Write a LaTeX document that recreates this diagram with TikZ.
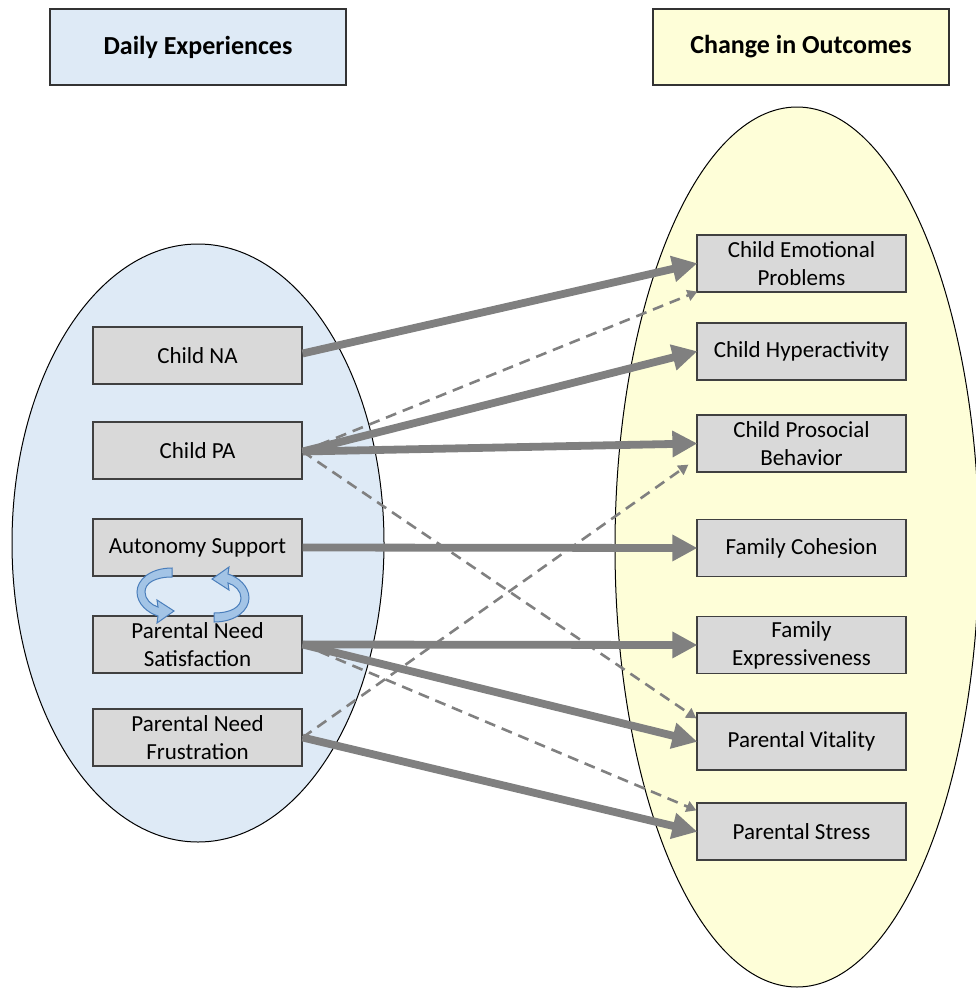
\documentclass[tikz,border=0pt]{standalone}
\usepackage{fontspec}
\setmainfont{Carlito}
\usetikzlibrary{arrows.meta,calc,shapes.geometric}
\definecolor{lblue}{HTML}{DEEAF6}
\definecolor{lyellow}{HTML}{FEFED8}
\definecolor{boxgray}{HTML}{D9D9D9}
\definecolor{arrgray}{HTML}{808080}
\definecolor{cycfill}{HTML}{A3C4E6}
\definecolor{cycline}{HTML}{4A7EBB}
\tikzset{
  varbox/.style={draw=black!75, line width=1.2pt, fill=boxgray, minimum width=209pt, minimum height=57pt, inner sep=2pt, align=center, font=\fontsize{23pt}{28pt}\selectfont},
  headbox/.style={draw=black!80, line width=1.2pt, minimum width=296pt, minimum height=76pt, font=\fontsize{26pt}{30pt}\selectfont\bfseries},
  solidarr/.style={draw=arrgray, line width=7.8pt, -{Triangle[length=25pt,width=25pt]}, shorten >=-1pt},
  dasharr/.style={draw=arrgray, line width=2.6pt, dash pattern=on 11pt off 7pt, -{Triangle[length=10pt,width=11pt]}},
  cyc/.style={fill=cycfill, draw=cycline, line width=1pt}
}
\begin{document}
\begin{tikzpicture}[x=1pt,y=-1pt]
\useasboundingbox (0,0) rectangle (975,988);
% ellipses
\node[ellipse, draw=black, line width=1pt, fill=lblue, minimum width=372pt, minimum height=598pt, inner sep=0pt] (lell) at (198,543) {};
\node[ellipse, draw=black, line width=1pt, fill=lyellow, minimum width=364pt, minimum height=880pt, inner sep=0pt] (rell) at (797,547) {};
% headers
\node[headbox, fill=lblue] (hl) at (198,47) {Daily Experiences};
\node[headbox, fill=lyellow] (hr) at (801,47) {Change in Outcomes};
% left boxes
\node[varbox] (cna) at (197.5,355.5) {Child NA};
\node[varbox] (cpa) at (197.5,450.5) {Child PA};
\node[varbox] (aus) at (197.5,547.5) {Autonomy Support};
\node[varbox] (pns) at (197.5,644.5) {Parental Need\\Satisfaction};
\node[varbox] (pnf) at (197.5,737.5) {Parental Need\\Frustration};
% right boxes
\node[varbox] (cep) at (801.5,263.5) {Child Emotional\\Problems};
\node[varbox] (chy) at (801.5,351.5) {Child Hyperactivity};
\node[varbox] (cpb) at (801.5,443.5) {Child Prosocial\\Behavior};
\node[varbox] (fco) at (801.5,548) {Family Cohesion};
\node[varbox] (fex) at (801.5,645) {Family\\Expressiveness};
\node[varbox] (pvi) at (801.5,741.5) {Parental Vitality};
\node[varbox] (pst) at (801.5,831.5) {Parental Stress};
% dashed arrows
\draw[dasharr] ($(cpa.east)+(0,1)$) -- ($(cep.south west)+(1,-1)$);
\draw[dasharr] ($(cpa.east)+(0,1)$) -- ($(pvi.north west)+(0,6)$);
\draw[dasharr] (pns.east) -- ($(pst.north west)+(0,8)$);
\draw[dasharr] (pnf.east) -- ($(cpb.south west)+(-8,-8)$);
% solid arrows
\draw[solidarr] ($(cna.east)+(0,-2)$) -- (cep.west);
\draw[solidarr] ($(cpa.east)+(0,1)$) -- (chy.west);
\draw[solidarr] ($(cpa.east)+(0,1)$) -- (cpb.west);
\draw[solidarr] (aus.east) -- (fco.west);
\draw[solidarr] (pns.east) -- (fex.west);
\draw[solidarr] (pns.east) -- (pvi.west);
\draw[solidarr] (pnf.east) -- (pst.west);
% cycle arrows
\path[cyc] (172,568) .. controls (150,568) and (137,580) .. (137,592)
  .. controls (137,604) and (148,613) .. (158,616) -- (157,623) -- (174,611) -- (157,600) -- (158,607)
  .. controls (151,605) and (145,599) .. (145,592)
  .. controls (145,583) and (155,577) .. (172,577) -- cycle;
\begin{scope}[rotate around={180:(193,595)}]
\path[cyc] (172,568) .. controls (150,568) and (137,580) .. (137,592)
  .. controls (137,604) and (148,613) .. (158,616) -- (157,623) -- (174,611) -- (157,600) -- (158,607)
  .. controls (151,605) and (145,599) .. (145,592)
  .. controls (145,583) and (155,577) .. (172,577) -- cycle;
\end{scope}
\end{tikzpicture}
\end{document}
